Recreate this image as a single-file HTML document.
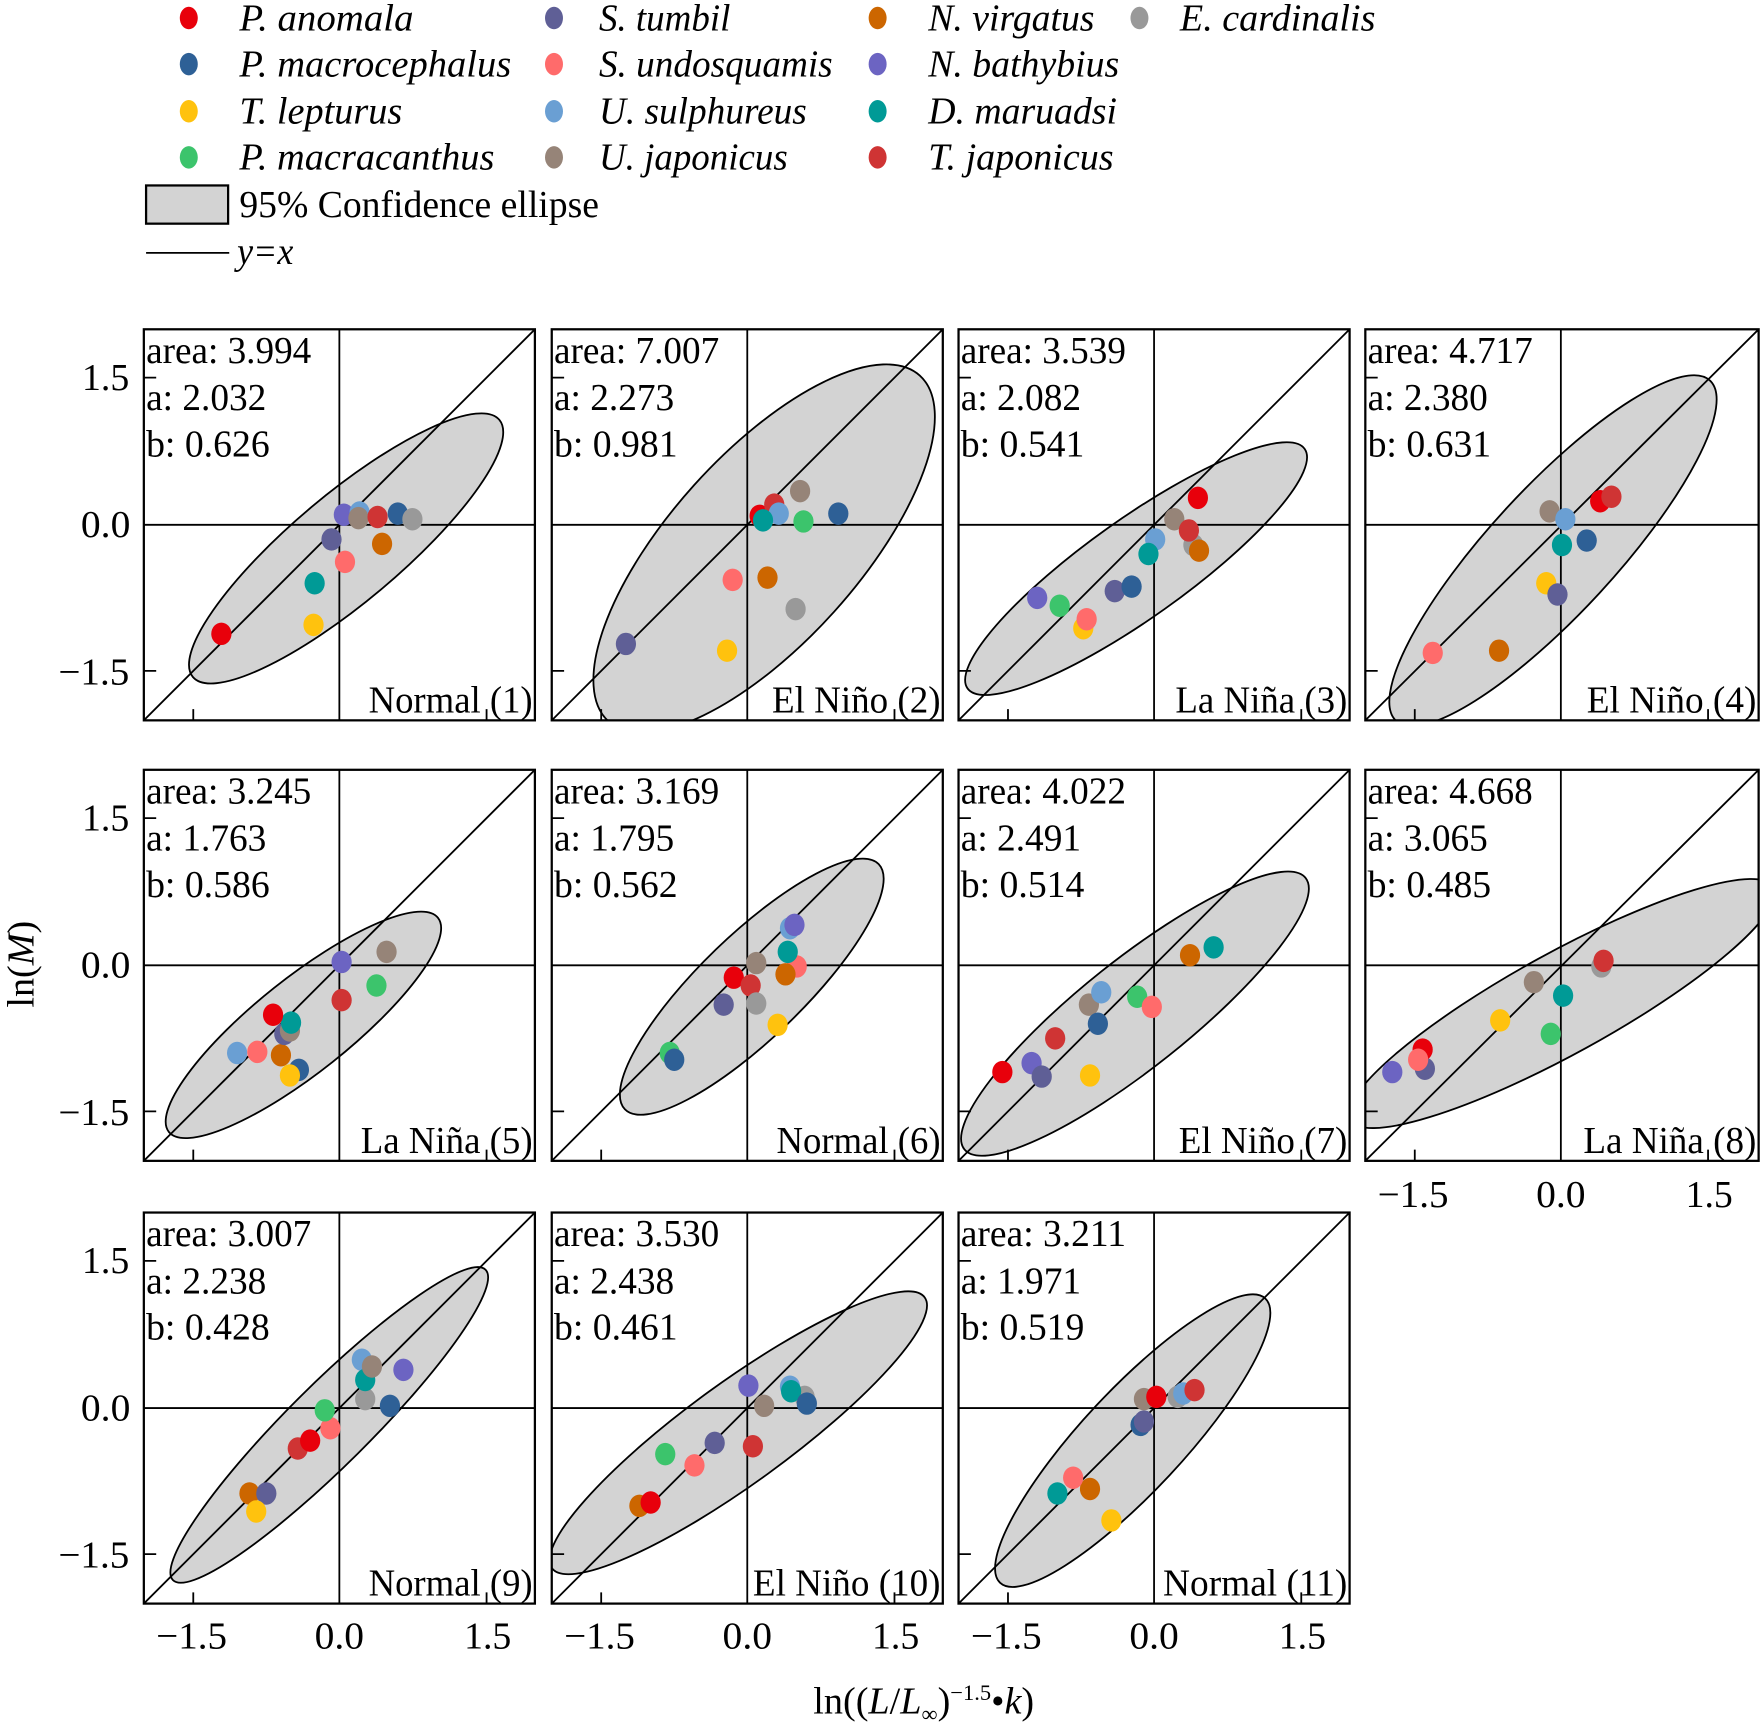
<!DOCTYPE html>
<html><head><meta charset="utf-8"><style>
html,body{margin:0;padding:0;background:#fff}
svg{display:block}
text{font-family:"Liberation Serif",serif;font-size:34px;fill:#000}
.i{font-style:italic}
.c1{fill:#e8000b}.c2{fill:#2e6096}.c3{fill:#ffc20e}.c4{fill:#3cc46c}.c5{fill:#5f5f96}.c6{fill:#ff6b6b}.c7{fill:#6a9fd3}.c8{fill:#968478}.c9{fill:#cc6600}.c10{fill:#6c64c2}.c11{fill:#009a96}.c12{fill:#cf3434}.c13{fill:#999}
.el{fill:#d3d3d3;stroke:#000;stroke-width:1.6}
.ln{stroke:#000;stroke-width:1.6;fill:none}
.fr{stroke:#000;stroke-width:2;fill:none}
</style></head><body>
<svg width="1762" height="1725" viewBox="0 0 1568 1535" xmlns="http://www.w3.org/2000/svg">
<defs>
<clipPath id="p1"><rect x="128" y="293" width="348" height="348"/></clipPath>
<clipPath id="p2"><rect x="491" y="293" width="348" height="348"/></clipPath>
<clipPath id="p3"><rect x="853" y="293" width="348" height="348"/></clipPath>
<clipPath id="p4"><rect x="1215" y="293" width="350" height="348"/></clipPath>
<clipPath id="p5"><rect x="128" y="685" width="348" height="348"/></clipPath>
<clipPath id="p6"><rect x="491" y="685" width="348" height="348"/></clipPath>
<clipPath id="p7"><rect x="853" y="685" width="348" height="348"/></clipPath>
<clipPath id="p8"><rect x="1215" y="685" width="350" height="348"/></clipPath>
<clipPath id="p9"><rect x="128" y="1079" width="348" height="348"/></clipPath>
<clipPath id="p10"><rect x="491" y="1079" width="348" height="348"/></clipPath>
<clipPath id="p11"><rect x="853" y="1079" width="348" height="348"/></clipPath>
</defs>

<!-- Legend -->
<g>
<ellipse class="c1" cx="168" cy="16" rx="8" ry="10"/><text class="i" x="213" y="27" textLength="155" lengthAdjust="spacingAndGlyphs">P. anomala</text>
<ellipse class="c2" cx="168" cy="57" rx="8" ry="10"/><text class="i" x="213" y="68" textLength="242" lengthAdjust="spacingAndGlyphs">P. macrocephalus</text>
<ellipse class="c3" cx="168" cy="99" rx="8" ry="10"/><text class="i" x="213" y="110" textLength="145" lengthAdjust="spacingAndGlyphs">T. lepturus</text>
<ellipse class="c4" cx="168" cy="140" rx="8" ry="10"/><text class="i" x="213" y="151" textLength="227" lengthAdjust="spacingAndGlyphs">P. macracanthus</text>
<ellipse class="c5" cx="493" cy="16" rx="8" ry="10"/><text class="i" x="533" y="27" textLength="117" lengthAdjust="spacingAndGlyphs">S. tumbil</text>
<ellipse class="c6" cx="493" cy="57" rx="8" ry="10"/><text class="i" x="533" y="68" textLength="208" lengthAdjust="spacingAndGlyphs">S. undosquamis</text>
<ellipse class="c7" cx="493" cy="99" rx="8" ry="10"/><text class="i" x="533" y="110" textLength="185" lengthAdjust="spacingAndGlyphs">U. sulphureus</text>
<ellipse class="c8" cx="493" cy="140" rx="8" ry="10"/><text class="i" x="533" y="151" textLength="168" lengthAdjust="spacingAndGlyphs">U. japonicus</text>
<ellipse class="c9" cx="781" cy="16" rx="8" ry="10"/><text class="i" x="826" y="27" textLength="148" lengthAdjust="spacingAndGlyphs">N. virgatus</text>
<ellipse class="c10" cx="781" cy="57" rx="8" ry="10"/><text class="i" x="826" y="68" textLength="170" lengthAdjust="spacingAndGlyphs">N. bathybius</text>
<ellipse class="c11" cx="781" cy="99" rx="8" ry="10"/><text class="i" x="826" y="110" textLength="168" lengthAdjust="spacingAndGlyphs">D. maruadsi</text>
<ellipse class="c12" cx="781" cy="140" rx="8" ry="10"/><text class="i" x="826" y="151" textLength="165" lengthAdjust="spacingAndGlyphs">T. japonicus</text>
<ellipse class="c13" cx="1014" cy="16" rx="8" ry="10"/><text class="i" x="1050" y="27" textLength="174" lengthAdjust="spacingAndGlyphs">E. cardinalis</text>
<rect x="130" y="165" width="73" height="34" fill="#d3d3d3" stroke="#000" stroke-width="2"/>
<text x="213" y="193" textLength="320" lengthAdjust="spacingAndGlyphs">95% Confidence ellipse</text>
<line x1="130" y1="225" x2="204" y2="225" class="ln"/>
<text class="i" x="211" y="235" textLength="50" lengthAdjust="spacingAndGlyphs">y=x</text>
</g>

<!-- Panel 1 -->
<g clip-path="url(#p1)">
<ellipse class="el" cx="308" cy="488" rx="178" ry="48" transform="rotate(-40 308 488)"/>
<line x1="302" y1="293" x2="302" y2="641" class="ln"/><line x1="128" y1="467" x2="476" y2="467" class="ln"/>
<line x1="128" y1="641" x2="476" y2="293" class="ln"/>
<ellipse class="c1" cx="197" cy="564" rx="9" ry="10"/><ellipse class="c3" cx="279" cy="556" rx="9" ry="10"/><ellipse class="c11" cx="280" cy="519" rx="9" ry="10"/><ellipse class="c6" cx="307" cy="500" rx="9" ry="10"/><ellipse class="c5" cx="295" cy="480" rx="9" ry="10"/><ellipse class="c9" cx="340" cy="484" rx="9" ry="10"/><ellipse class="c10" cx="306" cy="458" rx="9" ry="10"/><ellipse class="c7" cx="320" cy="456" rx="9" ry="10"/><ellipse class="c8" cx="319" cy="461" rx="9" ry="10"/><ellipse class="c2" cx="354" cy="457" rx="9" ry="10"/><ellipse class="c12" cx="336" cy="460" rx="9" ry="10"/><ellipse class="c13" cx="367" cy="462" rx="9" ry="10"/>
</g>
<!-- Panel 2 -->
<g clip-path="url(#p2)">
<ellipse class="el" cx="680" cy="488" rx="207" ry="84" transform="rotate(-48 680 488)"/>
<line x1="665" y1="293" x2="665" y2="641" class="ln"/><line x1="491" y1="467" x2="839" y2="467" class="ln"/>
<line x1="491" y1="641" x2="839" y2="293" class="ln"/>
<ellipse class="c5" cx="557" cy="573" rx="9" ry="10"/><ellipse class="c3" cx="647" cy="579" rx="9" ry="10"/><ellipse class="c6" cx="652" cy="516" rx="9" ry="10"/><ellipse class="c9" cx="683" cy="514" rx="9" ry="10"/><ellipse class="c13" cx="708" cy="542" rx="9" ry="10"/><ellipse class="c1" cx="676" cy="459" rx="9" ry="10"/><ellipse class="c12" cx="689" cy="449" rx="9" ry="10"/><ellipse class="c7" cx="693" cy="457" rx="9" ry="10"/><ellipse class="c11" cx="679" cy="463" rx="9" ry="10"/><ellipse class="c4" cx="715" cy="464" rx="9" ry="10"/><ellipse class="c8" cx="712" cy="437" rx="9" ry="10"/><ellipse class="c2" cx="746" cy="457" rx="9" ry="10"/>
</g>
<!-- Panel 3 -->
<g clip-path="url(#p3)">
<ellipse class="el" cx="1011" cy="506" rx="184" ry="44" transform="rotate(-35.4 1011 506)"/>
<line x1="1027" y1="293" x2="1027" y2="641" class="ln"/><line x1="853" y1="467" x2="1201" y2="467" class="ln"/>
<line x1="853" y1="641" x2="1201" y2="293" class="ln"/>
<ellipse class="c10" cx="923" cy="532" rx="9" ry="10"/><ellipse class="c4" cx="943" cy="539" rx="9" ry="10"/><ellipse class="c3" cx="964" cy="559" rx="9" ry="10"/><ellipse class="c6" cx="967" cy="551" rx="9" ry="10"/><ellipse class="c5" cx="992" cy="526" rx="9" ry="10"/><ellipse class="c2" cx="1007" cy="522" rx="9" ry="10"/><ellipse class="c7" cx="1028" cy="480" rx="9" ry="10"/><ellipse class="c11" cx="1022" cy="493" rx="9" ry="10"/><ellipse class="c8" cx="1045" cy="462" rx="9" ry="10"/><ellipse class="c13" cx="1062" cy="485" rx="9" ry="10"/><ellipse class="c12" cx="1058" cy="472" rx="9" ry="10"/><ellipse class="c9" cx="1067" cy="490" rx="9" ry="10"/><ellipse class="c1" cx="1066" cy="443" rx="9" ry="10"/>
</g>
<!-- Panel 4 -->
<g clip-path="url(#p4)">
<ellipse class="el" cx="1382" cy="490" rx="206" ry="56" transform="rotate(-47.3 1382 490)"/>
<line x1="1389" y1="293" x2="1389" y2="641" class="ln"/><line x1="1215" y1="467" x2="1565" y2="467" class="ln"/>
<line x1="1215" y1="641" x2="1565" y2="293" class="ln"/>
<ellipse class="c6" cx="1275" cy="581" rx="9" ry="10"/><ellipse class="c9" cx="1334" cy="579" rx="9" ry="10"/><ellipse class="c3" cx="1376" cy="519" rx="9" ry="10"/><ellipse class="c5" cx="1386" cy="529" rx="9" ry="10"/><ellipse class="c8" cx="1379" cy="455" rx="9" ry="10"/><ellipse class="c7" cx="1393" cy="462" rx="9" ry="10"/><ellipse class="c11" cx="1390" cy="485" rx="9" ry="10"/><ellipse class="c2" cx="1412" cy="481" rx="9" ry="10"/><ellipse class="c1" cx="1424" cy="446" rx="9" ry="10"/><ellipse class="c12" cx="1434" cy="442" rx="9" ry="10"/>
</g>
<!-- Panel 5 -->
<g clip-path="url(#p5)">
<ellipse class="el" cx="270" cy="912" rx="153" ry="42" transform="rotate(-38.5 270 912)"/>
<line x1="302" y1="685" x2="302" y2="1033" class="ln"/><line x1="128" y1="859" x2="476" y2="859" class="ln"/>
<line x1="128" y1="1033" x2="476" y2="685" class="ln"/>
<ellipse class="c7" cx="211" cy="937" rx="9" ry="10"/><ellipse class="c6" cx="229" cy="936" rx="9" ry="10"/><ellipse class="c2" cx="266" cy="952" rx="9" ry="10"/><ellipse class="c9" cx="250" cy="939" rx="9" ry="10"/><ellipse class="c3" cx="258" cy="957" rx="9" ry="10"/><ellipse class="c5" cx="253" cy="920" rx="9" ry="10"/><ellipse class="c8" cx="258" cy="917" rx="9" ry="10"/><ellipse class="c11" cx="259" cy="910" rx="9" ry="10"/><ellipse class="c1" cx="243" cy="903" rx="9" ry="10"/><ellipse class="c12" cx="304" cy="890" rx="9" ry="10"/><ellipse class="c10" cx="304" cy="856" rx="9" ry="10"/><ellipse class="c4" cx="335" cy="877" rx="9" ry="10"/><ellipse class="c8" cx="344" cy="847" rx="9" ry="10"/>
</g>
<!-- Panel 6 -->
<g clip-path="url(#p6)">
<ellipse class="el" cx="669" cy="878" rx="157" ry="46" transform="rotate(-44 669 878)"/>
<line x1="665" y1="685" x2="665" y2="1033" class="ln"/><line x1="491" y1="859" x2="839" y2="859" class="ln"/>
<line x1="491" y1="1033" x2="839" y2="685" class="ln"/>
<ellipse class="c4" cx="596" cy="937" rx="9" ry="10"/><ellipse class="c2" cx="600" cy="943" rx="9" ry="10"/><ellipse class="c5" cx="644" cy="894" rx="9" ry="10"/><ellipse class="c1" cx="653" cy="870" rx="9" ry="10"/><ellipse class="c8" cx="673" cy="857" rx="9" ry="10"/><ellipse class="c12" cx="668" cy="877" rx="9" ry="10"/><ellipse class="c13" cx="673" cy="893" rx="9" ry="10"/><ellipse class="c3" cx="692" cy="912" rx="9" ry="10"/><ellipse class="c6" cx="709" cy="860" rx="9" ry="10"/><ellipse class="c9" cx="699" cy="867" rx="9" ry="10"/><ellipse class="c11" cx="701" cy="847" rx="9" ry="10"/><ellipse class="c7" cx="703" cy="826" rx="9" ry="10"/><ellipse class="c10" cx="707" cy="823" rx="9" ry="10"/>
</g>
<!-- Panel 7 -->
<g clip-path="url(#p7)">
<ellipse class="el" cx="1010" cy="902" rx="194" ry="48" transform="rotate(-38.5 1010 902)"/>
<line x1="1027" y1="685" x2="1027" y2="1033" class="ln"/><line x1="853" y1="859" x2="1201" y2="859" class="ln"/>
<line x1="853" y1="1033" x2="1201" y2="685" class="ln"/>
<ellipse class="c1" cx="892" cy="954" rx="9" ry="10"/><ellipse class="c10" cx="918" cy="946" rx="9" ry="10"/><ellipse class="c5" cx="927" cy="958" rx="9" ry="10"/><ellipse class="c3" cx="970" cy="957" rx="9" ry="10"/><ellipse class="c12" cx="939" cy="924" rx="9" ry="10"/><ellipse class="c8" cx="969" cy="894" rx="9" ry="10"/><ellipse class="c7" cx="980" cy="883" rx="9" ry="10"/><ellipse class="c2" cx="977" cy="911" rx="9" ry="10"/><ellipse class="c4" cx="1012" cy="887" rx="9" ry="10"/><ellipse class="c6" cx="1025" cy="896" rx="9" ry="10"/><ellipse class="c9" cx="1059" cy="850" rx="9" ry="10"/><ellipse class="c11" cx="1080" cy="843" rx="9" ry="10"/>
</g>
<!-- Panel 8 -->
<g clip-path="url(#p8)">
<ellipse class="el" cx="1390" cy="893" rx="215" ry="45" transform="rotate(-28.8 1390 893)"/>
<line x1="1389" y1="685" x2="1389" y2="1033" class="ln"/><line x1="1215" y1="859" x2="1565" y2="859" class="ln"/>
<line x1="1215" y1="1033" x2="1565" y2="685" class="ln"/>
<ellipse class="c10" cx="1239" cy="954" rx="9" ry="10"/><ellipse class="c5" cx="1268" cy="951" rx="9" ry="10"/><ellipse class="c1" cx="1266" cy="934" rx="9" ry="10"/><ellipse class="c6" cx="1262" cy="943" rx="9" ry="10"/><ellipse class="c3" cx="1335" cy="908" rx="9" ry="10"/><ellipse class="c4" cx="1380" cy="920" rx="9" ry="10"/><ellipse class="c8" cx="1365" cy="874" rx="9" ry="10"/><ellipse class="c11" cx="1391" cy="886" rx="9" ry="10"/><ellipse class="c13" cx="1425" cy="860" rx="9" ry="10"/><ellipse class="c12" cx="1427" cy="855" rx="9" ry="10"/>
</g>
<!-- Panel 9 -->
<g clip-path="url(#p9)">
<ellipse class="el" cx="293" cy="1268" rx="196" ry="36" transform="rotate(-44.8 293 1268)"/>
<line x1="302" y1="1079" x2="302" y2="1427" class="ln"/><line x1="128" y1="1253" x2="476" y2="1253" class="ln"/>
<line x1="128" y1="1427" x2="476" y2="1079" class="ln"/>
<ellipse class="c9" cx="222" cy="1329" rx="9" ry="10"/><ellipse class="c5" cx="237" cy="1329" rx="9" ry="10"/><ellipse class="c3" cx="228" cy="1345" rx="9" ry="10"/><ellipse class="c12" cx="265" cy="1289" rx="9" ry="10"/><ellipse class="c1" cx="276" cy="1282" rx="9" ry="10"/><ellipse class="c6" cx="294" cy="1271" rx="9" ry="10"/><ellipse class="c4" cx="289" cy="1255" rx="9" ry="10"/><ellipse class="c13" cx="325" cy="1245" rx="9" ry="10"/><ellipse class="c7" cx="322" cy="1210" rx="9" ry="10"/><ellipse class="c11" cx="325" cy="1228" rx="9" ry="10"/><ellipse class="c8" cx="331" cy="1216" rx="9" ry="10"/><ellipse class="c10" cx="359" cy="1219" rx="9" ry="10"/><ellipse class="c2" cx="347" cy="1251" rx="9" ry="10"/>
</g>
<!-- Panel 10 -->
<g clip-path="url(#p10)">
<ellipse class="el" cx="657" cy="1275" rx="205" ry="45" transform="rotate(-36 657 1275)"/>
<line x1="665" y1="1079" x2="665" y2="1427" class="ln"/><line x1="491" y1="1253" x2="839" y2="1253" class="ln"/>
<line x1="491" y1="1427" x2="839" y2="1079" class="ln"/>
<ellipse class="c9" cx="569" cy="1340" rx="9" ry="10"/><ellipse class="c1" cx="579" cy="1337" rx="9" ry="10"/><ellipse class="c4" cx="592" cy="1294" rx="9" ry="10"/><ellipse class="c6" cx="618" cy="1304" rx="9" ry="10"/><ellipse class="c5" cx="636" cy="1284" rx="9" ry="10"/><ellipse class="c12" cx="670" cy="1287" rx="9" ry="10"/><ellipse class="c8" cx="680" cy="1251" rx="9" ry="10"/><ellipse class="c10" cx="666" cy="1233" rx="9" ry="10"/><ellipse class="c7" cx="703" cy="1234" rx="9" ry="10"/><ellipse class="c13" cx="716" cy="1243" rx="9" ry="10"/><ellipse class="c11" cx="704" cy="1238" rx="9" ry="10"/><ellipse class="c2" cx="718" cy="1249" rx="9" ry="10"/>
</g>
<!-- Panel 11 -->
<g clip-path="url(#p11)">
<ellipse class="el" cx="1008" cy="1282" rx="173" ry="45" transform="rotate(-47 1008 1282)"/>
<line x1="1027" y1="1079" x2="1027" y2="1427" class="ln"/><line x1="853" y1="1253" x2="1201" y2="1253" class="ln"/>
<line x1="853" y1="1427" x2="1201" y2="1079" class="ln"/>
<ellipse class="c3" cx="989" cy="1353" rx="9" ry="10"/><ellipse class="c9" cx="970" cy="1325" rx="9" ry="10"/><ellipse class="c11" cx="941" cy="1329" rx="9" ry="10"/><ellipse class="c6" cx="955" cy="1315" rx="9" ry="10"/><ellipse class="c2" cx="1015" cy="1268" rx="9" ry="10"/><ellipse class="c5" cx="1018" cy="1265" rx="9" ry="10"/><ellipse class="c8" cx="1018" cy="1245" rx="9" ry="10"/><ellipse class="c1" cx="1029" cy="1243" rx="9" ry="10"/><ellipse class="c13" cx="1048" cy="1243" rx="9" ry="10"/><ellipse class="c7" cx="1053" cy="1240" rx="9" ry="10"/><ellipse class="c12" cx="1063" cy="1237" rx="9" ry="10"/>
</g>

<!-- Frames & ticks -->
<g class="fr">
<rect x="128" y="293" width="348" height="348"/><rect x="491" y="293" width="348" height="348"/><rect x="853" y="293" width="348" height="348"/><rect x="1215" y="293" width="350" height="348"/>
<rect x="128" y="685" width="348" height="348"/><rect x="491" y="685" width="348" height="348"/><rect x="853" y="685" width="348" height="348"/><rect x="1215" y="685" width="350" height="348"/>
<rect x="128" y="1079" width="348" height="348"/><rect x="491" y="1079" width="348" height="348"/><rect x="853" y="1079" width="348" height="348"/>
</g>
<g stroke="#000" stroke-width="1.6">
<path d="M128 336h11M128 597h11M172 641v-10M433 641v-10"/>
<path d="M491 336h11M491 597h11M535 641v-10M796 641v-10"/>
<path d="M853 336h11M853 597h11M897 641v-10M1158 641v-10"/>
<path d="M1215 336h11M1215 597h11M1259 641v-10M1520 641v-10"/>
<path d="M128 728h11M128 989h11M172 1033v-10M433 1033v-10"/>
<path d="M491 728h11M491 989h11M535 1033v-10M796 1033v-10"/>
<path d="M853 728h11M853 989h11M897 1033v-10M1158 1033v-10"/>
<path d="M1215 728h11M1215 989h11M1259 1033v-10M1520 1033v-10"/>
<path d="M128 1122h11M128 1383h11M172 1427v-10M433 1427v-10"/>
<path d="M491 1122h11M491 1383h11M535 1427v-10M796 1427v-10"/>
<path d="M853 1122h11M853 1383h11M897 1427v-10M1158 1427v-10"/>
</g>

<!-- Panel stats -->
<g>
<text x="130" y="323" textLength="147" lengthAdjust="spacingAndGlyphs">area: 3.994</text><text x="130" y="365" textLength="107" lengthAdjust="spacingAndGlyphs">a: 2.032</text><text x="130" y="406" textLength="110" lengthAdjust="spacingAndGlyphs">b: 0.626</text><text x="328" y="634" textLength="146" lengthAdjust="spacingAndGlyphs">Normal (1)</text>
<text x="493" y="323" textLength="147" lengthAdjust="spacingAndGlyphs">area: 7.007</text><text x="493" y="365" textLength="107" lengthAdjust="spacingAndGlyphs">a: 2.273</text><text x="493" y="406" textLength="110" lengthAdjust="spacingAndGlyphs">b: 0.981</text><text x="687" y="634" textLength="150" lengthAdjust="spacingAndGlyphs">El Niño (2)</text>
<text x="855" y="323" textLength="147" lengthAdjust="spacingAndGlyphs">area: 3.539</text><text x="855" y="365" textLength="107" lengthAdjust="spacingAndGlyphs">a: 2.082</text><text x="855" y="406" textLength="110" lengthAdjust="spacingAndGlyphs">b: 0.541</text><text x="1046" y="634" textLength="153" lengthAdjust="spacingAndGlyphs">La Niña (3)</text>
<text x="1217" y="323" textLength="147" lengthAdjust="spacingAndGlyphs">area: 4.717</text><text x="1217" y="365" textLength="107" lengthAdjust="spacingAndGlyphs">a: 2.380</text><text x="1217" y="406" textLength="110" lengthAdjust="spacingAndGlyphs">b: 0.631</text><text x="1412" y="634" textLength="151" lengthAdjust="spacingAndGlyphs">El Niño (4)</text>
<text x="130" y="715" textLength="147" lengthAdjust="spacingAndGlyphs">area: 3.245</text><text x="130" y="757" textLength="107" lengthAdjust="spacingAndGlyphs">a: 1.763</text><text x="130" y="798" textLength="110" lengthAdjust="spacingAndGlyphs">b: 0.586</text><text x="321" y="1026" textLength="153" lengthAdjust="spacingAndGlyphs">La Niña (5)</text>
<text x="493" y="715" textLength="147" lengthAdjust="spacingAndGlyphs">area: 3.169</text><text x="493" y="757" textLength="107" lengthAdjust="spacingAndGlyphs">a: 1.795</text><text x="493" y="798" textLength="110" lengthAdjust="spacingAndGlyphs">b: 0.562</text><text x="691" y="1026" textLength="146" lengthAdjust="spacingAndGlyphs">Normal (6)</text>
<text x="855" y="715" textLength="147" lengthAdjust="spacingAndGlyphs">area: 4.022</text><text x="855" y="757" textLength="107" lengthAdjust="spacingAndGlyphs">a: 2.491</text><text x="855" y="798" textLength="110" lengthAdjust="spacingAndGlyphs">b: 0.514</text><text x="1049" y="1026" textLength="150" lengthAdjust="spacingAndGlyphs">El Niño (7)</text>
<text x="1217" y="715" textLength="147" lengthAdjust="spacingAndGlyphs">area: 4.668</text><text x="1217" y="757" textLength="107" lengthAdjust="spacingAndGlyphs">a: 3.065</text><text x="1217" y="798" textLength="110" lengthAdjust="spacingAndGlyphs">b: 0.485</text><text x="1409" y="1026" textLength="154" lengthAdjust="spacingAndGlyphs">La Niña (8)</text>
<text x="130" y="1109" textLength="147" lengthAdjust="spacingAndGlyphs">area: 3.007</text><text x="130" y="1151" textLength="107" lengthAdjust="spacingAndGlyphs">a: 2.238</text><text x="130" y="1192" textLength="110" lengthAdjust="spacingAndGlyphs">b: 0.428</text><text x="328" y="1420" textLength="146" lengthAdjust="spacingAndGlyphs">Normal (9)</text>
<text x="493" y="1109" textLength="147" lengthAdjust="spacingAndGlyphs">area: 3.530</text><text x="493" y="1151" textLength="107" lengthAdjust="spacingAndGlyphs">a: 2.438</text><text x="493" y="1192" textLength="110" lengthAdjust="spacingAndGlyphs">b: 0.461</text><text x="670" y="1420" textLength="167" lengthAdjust="spacingAndGlyphs">El Niño (10)</text>
<text x="855" y="1109" textLength="147" lengthAdjust="spacingAndGlyphs">area: 3.211</text><text x="855" y="1151" textLength="107" lengthAdjust="spacingAndGlyphs">a: 1.971</text><text x="855" y="1192" textLength="110" lengthAdjust="spacingAndGlyphs">b: 0.519</text><text x="1035" y="1420" textLength="164" lengthAdjust="spacingAndGlyphs">Normal (11)</text>
</g>

<!-- Y tick labels -->
<g>
<text x="73" y="347" textLength="42" lengthAdjust="spacingAndGlyphs">1.5</text><text x="72" y="478" textLength="44" lengthAdjust="spacingAndGlyphs">0.0</text><text x="52" y="609" textLength="63" lengthAdjust="spacingAndGlyphs">−1.5</text>
<text x="73" y="739" textLength="42" lengthAdjust="spacingAndGlyphs">1.5</text><text x="72" y="870" textLength="44" lengthAdjust="spacingAndGlyphs">0.0</text><text x="52" y="1001" textLength="63" lengthAdjust="spacingAndGlyphs">−1.5</text>
<text x="73" y="1133" textLength="42" lengthAdjust="spacingAndGlyphs">1.5</text><text x="72" y="1264" textLength="44" lengthAdjust="spacingAndGlyphs">0.0</text><text x="52" y="1395" textLength="63" lengthAdjust="spacingAndGlyphs">−1.5</text>
</g>
<!-- X tick labels -->
<g>
<text x="139" y="1467" textLength="63" lengthAdjust="spacingAndGlyphs">−1.5</text><text x="280" y="1467" textLength="44" lengthAdjust="spacingAndGlyphs">0.0</text><text x="413" y="1467" textLength="42" lengthAdjust="spacingAndGlyphs">1.5</text>
<text x="502" y="1467" textLength="63" lengthAdjust="spacingAndGlyphs">−1.5</text><text x="643" y="1467" textLength="44" lengthAdjust="spacingAndGlyphs">0.0</text><text x="776" y="1467" textLength="42" lengthAdjust="spacingAndGlyphs">1.5</text>
<text x="864" y="1467" textLength="63" lengthAdjust="spacingAndGlyphs">−1.5</text><text x="1005" y="1467" textLength="44" lengthAdjust="spacingAndGlyphs">0.0</text><text x="1138" y="1467" textLength="42" lengthAdjust="spacingAndGlyphs">1.5</text>
<text x="1226" y="1074" textLength="63" lengthAdjust="spacingAndGlyphs">−1.5</text><text x="1367" y="1074" textLength="44" lengthAdjust="spacingAndGlyphs">0.0</text><text x="1500" y="1074" textLength="42" lengthAdjust="spacingAndGlyphs">1.5</text>
</g>

<!-- Axis titles -->
<text x="30" y="858" text-anchor="middle" transform="rotate(-90 30 858)">ln(<tspan class="i">M</tspan>)</text>
<text x="822" y="1525" text-anchor="middle">ln((<tspan class="i">L</tspan>/<tspan class="i">L</tspan><tspan font-size="20" dy="7">∞</tspan><tspan dy="-7">)</tspan><tspan font-size="20" dy="-12">−1.5</tspan><tspan dy="12">•</tspan><tspan class="i">k</tspan>)</text>
</svg>
</body></html>
